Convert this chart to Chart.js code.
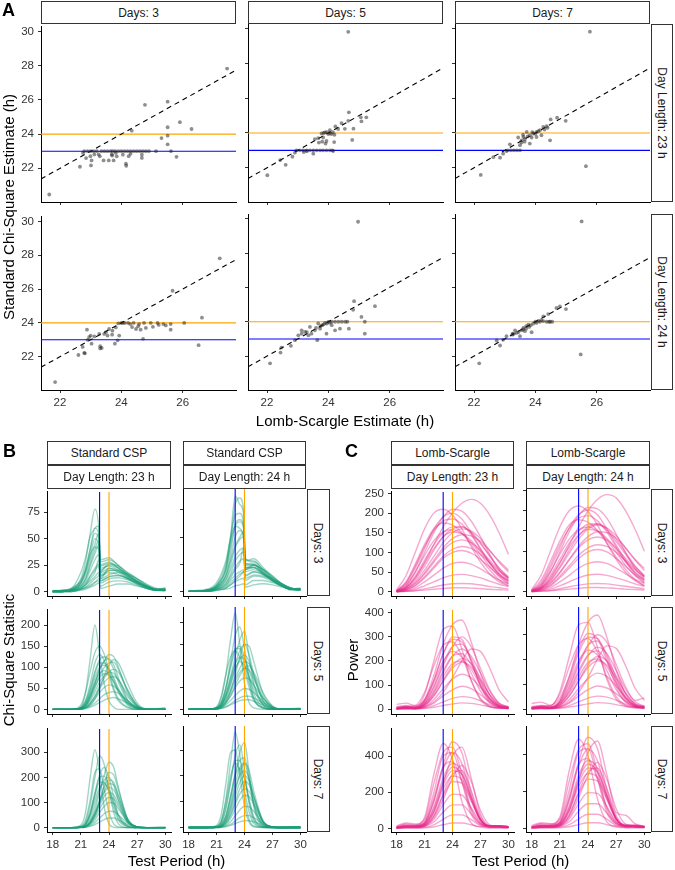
<!DOCTYPE html>
<html>
<head>
<meta charset="utf-8">
<script src="https://cdn.jsdelivr.net/npm/chart.js@4.4.1/dist/chart.umd.min.js"></script>
<style>
  body { margin: 0; background: #fff; font-family: "Liberation Sans", Arial, sans-serif; }
  #fig { position: relative; width: 675px; height: 870px; overflow: hidden; }
  canvas { position: absolute; }
  .strip { position: absolute; box-sizing: border-box; border: 1px solid #333; background: #fff;
    display: flex; align-items: center; justify-content: center; font-size: 12px; color: #1a1a1a; }
  .strip.v span { transform: rotate(90deg); white-space: nowrap; }
  .lab { position: absolute; white-space: nowrap; font-size: 15px; color: #000; transform: translate(-50%, -50%); }
  .lab.rot { transform: translate(-50%, -50%) rotate(-90deg); }
  .tag { position: absolute; font-weight: bold; font-size: 18px; line-height: 1; }
</style>
</head>
<body>
<div id="fig"></div>
<script>
// ---- DATA ----
const dayLengths = [23, 24];
const daysList = [3, 5, 7];

// A: tick labels
const aTicksX = [22, 24, 26];
const aTicksY = [22, 24, 26, 28, 30];

// A: [Lomb-Scargle estimate, standard chi-square estimate]
const estL23D3 = [[21.65,20.47],[27.45,27.83],[24.77,25.71],[25.51,25.9],[25.91,24.7],[26.29,24.3],[25.51,24.4],[25.51,23.91],[25.51,23.4],[25.31,23.77],[25.62,23.0],[25.8,22.67],[25.13,23.0],[24.34,24.2],[22.65,22.09],[22.79,23.0],[23.01,22.17],[22.99,22.71],[23.03,22.46],[23.12,22.81],[23.26,22.81],[23.42,22.46],[23.59,22.46],[23.75,22.46],[23.69,22.81],[23.82,22.9],[24.15,22.27],[24.16,22.15],[24.24,22.71],[24.67,22.61],[24.67,22.8],[22.75,22.9],[22.9,23],[23.0,23],[23.1,23],[23.2,23],[23.35,23],[23.45,23],[23.55,23],[23.65,23],[23.72,23],[23.8,23],[23.9,23],[24.0,23],[24.1,23],[24.2,23],[24.3,23],[24.4,23],[24.5,23],[24.6,23],[24.7,23],[24.8,23],[24.9,23],[23.7,22.75],[23.85,22.7],[24.05,22.8],[24.3,22.85],[23.3,22.7],[22.85,22.6]];
const estL23D5 = [[24.65,29.82],[22.01,21.57],[22.43,22.44],[22.61,22.17],[22.83,22.64],[22.91,22.87],[22.96,23],[23.07,23],[23.18,23],[23.29,23],[23.4,23],[23.51,23],[23.62,23],[23.73,23],[23.83,23],[23.94,23],[24.05,23],[24.13,23],[23.51,22.81],[24.16,22.96],[23.78,23.97],[23.89,24.03],[24.0,23.94],[24.1,23.94],[24.2,23.9],[23.83,23.74],[23.67,23.7],[23.94,23.54],[23.8,23.5],[24.05,24.16],[24.23,24.38],[24.32,24.23],[24.43,24.57],[24.54,24.24],[24.65,24.7],[24.67,25.19],[24.82,24.25],[24.78,23.6],[24.19,23.48],[23.91,23.39],[25.06,24.9],[25.08,24.67],[25.24,24.9],[23.56,23.65],[23.69,23.45],[23.85,24.0],[23.95,24.05],[24.05,24.0],[24.15,24.05],[23.3,22.95],[23.2,22.9]];
const estL23D7 = [[25.78,29.83],[25.65,22.09],[22.22,21.59],[22.63,22.61],[22.85,22.58],[22.95,22.81],[23.06,22.96],[23.1,23],[23.2,23],[23.3,23],[23.4,23],[23.5,23],[23.17,23.35],[23.55,23.58],[23.61,23.77],[23.72,24.06],[23.82,23.87],[23.93,23.97],[24.04,24.06],[24.15,24.16],[24.26,24.35],[24.37,24.39],[23.55,23.45],[23.66,23.66],[23.82,23.39],[23.88,23.74],[24.04,23.77],[24.2,23.87],[24.48,23.58],[24.5,24.78],[24.71,24.88],[24.99,24.7],[23.44,23.74],[23.5,23.3],[23.6,23.9],[23.75,23.8],[23.9,24.05],[24.0,23.95],[24.1,24.1],[24.3,24.2],[24.4,24.3],[23.65,23.5]];
const estL24D3 = [[21.84,20.5],[27.21,27.82],[25.67,25.9],[22.6,22.1],[22.79,22.23],[22.74,22.58],[22.88,23.6],[22.9,23.0],[22.95,23.16],[23.0,23.25],[23.12,23.2],[23.03,22.77],[23.31,22.62],[23.31,22.49],[23.28,23.35],[23.44,23.35],[23.55,23.25],[23.6,23.64],[23.71,23.54],[23.82,23.73],[23.79,22.77],[23.88,22.97],[23.93,23.25],[23.9,23.97],[24.0,24],[24.05,24],[24.11,24],[24.22,24],[24.29,23.93],[24.4,24],[24.48,23.64],[24.58,23.93],[24.63,23.6],[24.74,24],[24.8,23.7],[24.71,23.06],[24.96,24],[25.03,23.77],[25.18,24],[25.22,23.88],[25.37,23.93],[25.45,23.85],[25.61,23.93],[25.61,23.6],[26.05,24],[26.63,24.31],[26.52,22.68],[22.81,22.2],[23.36,22.52],[23.7,23.3],[24.35,23.75],[24.55,23.8],[23.5,23.45]];
const estL24D5 = [[24.97,29.82],[22.1,21.58],[22.44,22.21],[22.47,22.5],[22.78,22.6],[22.91,22.93],[23.02,23.21],[23.13,23.31],[23.24,23.41],[23.35,23.21],[23.45,23.31],[23.56,23.5],[23.4,23.7],[23.13,23.5],[23.64,22.93],[23.73,23.6],[23.8,23.8],[23.89,23.93],[24.0,23.99],[24.11,24],[24.22,24],[24.33,24],[24.44,24],[24.55,24],[24.62,24],[23.94,23.31],[24.22,23.5],[24.38,23.6],[24.67,23.6],[24.84,25.2],[24.81,24.7],[25.08,24.28],[25.19,24.0],[25.19,23.31],[25.52,24.91],[23.67,23.9],[24.11,23.8],[23.85,23.85],[23.95,23.9],[24.05,23.95],[23.75,23.75],[23.6,23.65],[23.3,23.4]];
const estL24D7 = [[25.51,29.84],[25.48,22.1],[22.17,21.58],[22.74,22.91],[22.85,22.62],[23.06,23.16],[23.26,23.31],[23.34,23.5],[23.5,23.16],[23.61,23.64],[23.66,23.45],[23.77,23.83],[23.88,23.39],[23.93,23.89],[24.04,23.93],[24.15,24.0],[24.26,24.04],[24.37,24.0],[24.48,24.0],[24.26,24.31],[24.42,24.45],[24.69,24.8],[24.8,24.9],[25.0,24.74],[23.39,23.35],[23.55,23.5],[23.7,23.6],[23.45,23.4],[23.6,23.55],[23.8,23.7],[23.85,23.8],[24.0,24.0],[24.1,24.05],[23.3,23.3],[23.25,23.25],[22.95,22.95],[23.7,23.75],[24.2,24.1],[24.45,24.0],[24.55,24.0]];

// B / C: test periods and tick labels
const periodTicks = [18, 21, 24, 27, 30];
const cspTicks3 = [0, 25, 50, 75];
const cspTicks5 = [0, 50, 100, 150, 200];
const cspTicks7 = [0, 100, 200, 300];
const lsTicks3 = [0, 50, 100, 150, 200, 250];
const lsTicks5 = [0, 100, 200, 300, 400];
const lsTicks7 = [0, 200, 400];

const cspPeriodsL23D3 = [18,19,20,21,21.5,22,22.5,22.9,23.1,24,25,26,27,28,29,30];
const cspPeriodsL24D3 = [18,19,20,21,22,22.5,23,23.5,23.9,24.1,25,26,27,28,29,30];
const cspPeriodsD57 = [18,20,21,21.5,22,22.5,23,23.5,24,24.5,25,26,27,28,30];
const lsPeriods = [18,19,20,21,22,23,24,25,26,27,28,29,30];

// B: chi-square statistic curves
const cspL23D3 = [
  [0,0,2,12,28,55,78,62,28,30,25,17,10,5,2,3],
  [0,1,3,18,32,52,60,62,25,28,22,14,8,4,1,2],
  [0,0,1,8,16,30,45,55,20,26,24,18,12,6,2,2],
  [1,1,3,10,20,35,42,40,15,18,16,12,8,4,1,1],
  [0,0,1,5,10,20,30,35,12,22,20,15,10,5,2,1],
  [0,0,1,4,8,15,22,26,10,14,15,12,8,5,2,3],
  [0,0,0,3,6,10,14,18,8,12,13,11,8,4,2,1],
  [0,0,0,2,4,6,9,10,5,9,10,9,6,3,1,1],
  [0,0,0,1,2,4,6,8,3,5,7,7,5,3,1,0],
  [0,1,2,8,20,40,60,55,30,32,24,16,9,5,2,2],
  [0,0,1,2,4,8,12,15,18,25,22,16,10,5,2,1],
  [0,0,1,3,7,14,20,24,12,16,18,16,12,7,3,2],
  [0,0,2,10,22,40,55,50,22,24,20,13,7,3,1,2],
  [0,0,1,6,12,24,36,44,16,20,19,14,9,4,1,1],
  [0,0,1,3,6,12,18,30,14,20,20,17,12,6,2,1],
  [0,1,2,8,18,34,50,45,18,22,18,12,7,3,1,2],
  [0,0,0,2,3,5,8,12,10,14,15,13,9,5,2,1],
  [0,0,1,5,12,26,40,48,24,27,22,15,9,4,2,3],
];
const cspL24D3 = [
  [0,0,1,5,20,45,80,86,75,30,27,20,12,6,2,3],
  [0,0,1,6,25,50,70,72,62,25,25,18,10,5,2,2],
  [0,1,2,8,28,48,60,58,50,22,22,16,10,5,1,2],
  [0,0,1,4,14,28,42,50,55,28,30,22,14,7,3,2],
  [0,0,1,3,10,20,32,38,40,18,20,16,10,5,2,1],
  [0,0,0,2,7,14,22,28,30,15,18,15,10,6,2,2],
  [0,0,0,2,5,10,15,18,20,10,14,13,9,5,2,1],
  [0,0,0,1,3,6,9,11,12,6,10,10,8,5,2,1],
  [0,0,0,1,2,3,5,6,7,4,6,7,6,4,2,1],
  [0,0,1,6,22,50,88,80,72,30,28,20,12,6,2,2],
  [0,0,0,2,4,8,12,16,18,20,24,20,13,7,3,2],
  [0,0,1,3,8,16,28,34,36,12,15,14,11,7,3,2],
  [0,0,1,4,16,36,60,64,58,24,24,17,10,5,2,2],
  [0,0,1,3,11,24,40,48,50,22,22,17,11,6,2,1],
  [0,0,0,2,6,12,20,26,40,20,24,20,14,7,3,2],
  [0,0,1,5,20,42,62,66,60,26,25,18,11,5,2,2],
  [0,0,0,1,3,6,10,14,18,14,18,16,12,7,3,1],
  [0,0,1,4,14,30,50,56,50,20,22,16,10,5,2,3],
];
const cspL23D5 = [
  [0,0,5,40,120,200,130,60,20,5,0,0,0,0,0],
  [0,0,10,40,90,135,150,130,90,50,25,5,0,0,0],
  [0,0,5,20,50,90,118,125,118,95,65,20,3,0,0],
  [0,0,3,12,35,65,95,115,130,125,100,40,8,0,2],
  [0,0,2,8,25,50,80,100,110,112,95,45,10,1,0],
  [0,0,2,10,30,55,75,85,80,65,45,15,3,0,0],
  [0,0,1,5,15,30,50,65,75,78,70,35,8,0,4],
  [0,0,1,4,12,25,40,52,58,55,45,20,5,0,0],
  [0,0,1,3,8,15,25,35,40,42,38,20,5,0,0],
  [0,0,0,2,5,10,16,22,26,28,25,15,4,0,0],
  [0,0,4,20,60,110,130,115,80,45,20,4,0,0,0],
  [0,0,1,3,10,25,50,80,105,118,110,60,15,1,0],
  [0,0,3,15,45,85,110,110,95,70,45,12,2,0,0],
  [0,0,2,8,28,60,95,115,120,105,75,22,3,0,0],
  [0,0,1,6,20,42,65,80,88,85,70,30,6,0,0],
  [0,0,3,14,40,75,100,105,95,75,50,15,2,0,0],
  [0,0,1,4,14,32,55,75,90,95,88,45,10,1,0],
  [0,0,2,10,32,62,85,92,85,65,40,10,1,0,0],
];
const cspL24D5 = [
  [0,0,5,25,80,160,222,150,60,15,3,0,0,0,0],
  [0,0,3,15,50,110,170,190,140,70,25,3,0,0,0],
  [0,0,2,10,35,75,120,160,180,120,60,10,0,0,0],
  [0,0,5,30,80,120,135,120,90,50,20,3,0,0,0],
  [0,0,2,8,25,55,90,115,125,110,75,20,3,0,0],
  [0,0,1,6,20,40,65,85,95,90,70,25,5,0,3],
  [0,0,1,5,15,30,50,65,72,70,55,25,5,0,0],
  [0,0,1,3,10,20,32,42,48,46,38,18,4,0,0],
  [0,0,0,2,6,12,20,26,30,30,26,14,3,0,0],
  [0,0,1,4,15,40,80,120,150,145,110,35,6,0,0],
  [0,0,2,10,30,60,95,110,100,75,45,10,1,0,0],
  [0,0,0,2,5,10,15,20,22,22,18,10,2,0,0],
  [0,0,3,14,45,95,135,145,120,75,35,5,0,0,0],
  [0,0,2,8,30,65,105,135,150,125,80,18,2,0,0],
  [0,0,1,6,20,45,72,95,110,105,80,28,5,0,0],
  [0,0,3,16,50,100,140,140,105,60,25,3,0,0,0],
  [0,0,1,4,14,32,55,78,95,100,85,38,8,0,0],
  [0,0,2,10,35,70,105,120,115,90,55,12,1,0,0],
];
const cspL23D7 = [
  [0,0,10,60,200,310,220,80,15,2,0,0,0,0,0],
  [0,0,3,20,90,200,285,250,150,60,15,0,0,0,0],
  [0,0,2,10,50,130,210,240,200,120,50,5,0,0,0],
  [0,0,1,5,25,70,140,210,260,240,160,30,2,0,0],
  [0,0,1,4,20,55,110,160,190,180,130,30,3,0,4],
  [0,0,2,12,50,110,160,175,150,100,50,8,0,0,0],
  [0,0,1,5,20,50,90,125,140,130,95,25,3,0,0],
  [0,0,1,3,12,30,60,85,100,98,75,22,3,0,0],
  [0,0,0,2,8,20,38,55,65,64,50,18,2,0,0],
  [0,0,0,1,5,12,22,32,38,38,30,12,2,0,0],
  [0,0,1,4,15,45,100,170,220,210,150,35,3,0,0],
  [0,0,5,30,110,220,235,150,60,15,3,0,0,0,0],
  [0,0,3,15,60,140,200,205,160,95,40,5,0,0,0],
  [0,0,2,8,35,90,150,190,200,170,110,20,2,0,0],
  [0,0,1,6,25,60,105,140,160,150,110,28,3,0,0],
  [0,0,3,15,60,130,180,180,140,80,30,3,0,0,0],
  [0,0,1,5,20,55,100,145,175,170,125,32,3,0,0],
  [0,0,1,4,15,40,75,105,120,115,85,22,2,0,0],
];
const cspL24D7 = [
  [0,0,4,25,110,250,370,280,120,30,5,0,0,0,0],
  [0,0,2,15,70,170,280,320,220,90,25,2,0,0,0],
  [0,0,1,8,40,110,200,290,330,210,80,5,0,0,0],
  [0,0,8,50,170,290,300,200,80,20,3,0,0,0,0],
  [0,0,1,5,25,70,140,210,250,220,140,25,2,0,0],
  [0,0,1,4,18,50,100,150,180,165,115,25,2,0,4],
  [0,0,1,3,12,35,70,105,125,120,90,22,2,0,0],
  [0,0,0,2,8,22,45,68,82,80,62,18,2,0,0],
  [0,0,0,1,5,12,25,38,46,46,38,14,2,0,0],
  [0,0,1,6,30,90,170,230,250,180,90,10,0,0,0],
  [0,0,2,10,45,120,200,230,190,110,40,3,0,0,0],
  [0,0,0,1,3,8,15,22,26,26,22,10,2,0,0],
  [0,0,3,18,80,180,260,260,190,100,35,3,0,0,0],
  [0,0,2,10,45,120,210,260,270,190,90,10,0,0,0],
  [0,0,1,6,30,80,150,200,220,190,120,20,2,0,0],
  [0,0,4,25,100,200,250,220,140,60,15,1,0,0,0],
  [0,0,1,5,22,60,120,175,200,180,120,22,2,0,0],
  [0,0,1,4,16,45,90,130,150,140,100,20,2,0,0],
];

// C: Lomb-Scargle power curves
const lsL23D3 = [
  [5,40,100,160,200,210,195,160,115,75,45,25,15],
  [2,20,60,110,160,190,200,185,150,110,75,45,25],
  [1,10,35,75,120,165,200,225,235,225,195,150,95],
  [3,25,70,120,160,175,170,150,120,85,55,30,15],
  [1,8,25,55,90,125,150,160,155,135,105,75,50],
  [1,6,20,45,75,105,125,132,125,105,80,55,35],
  [0,4,15,35,60,85,100,105,98,82,62,42,28],
  [0,3,10,25,42,60,72,75,70,58,44,30,20],
  [0,2,6,15,25,35,42,44,41,35,27,19,13],
  [0,1,3,7,12,17,20,21,20,17,13,10,7],
  [2,15,50,100,150,190,210,205,180,140,95,55,30],
  [1,10,30,65,105,140,160,165,152,125,92,60,35],
  [0,1,2,4,6,8,10,10,9,8,6,5,4],
  [3,22,65,115,155,180,185,172,145,108,72,42,22],
  [1,12,40,80,120,150,165,165,150,122,90,60,38],
  [2,16,50,92,130,152,158,148,125,95,64,38,20],
  [1,7,22,48,80,112,135,145,142,128,104,78,55],
  [0,5,16,38,64,90,108,115,110,95,74,52,34],
  [1,10,35,72,110,140,152,148,130,102,72,46,28],
];
const lsL24D3 = [
  [5,40,100,160,200,212,198,165,120,80,48,27,15],
  [2,18,58,108,158,190,202,190,155,115,78,48,27],
  [1,9,32,70,115,160,200,228,240,232,200,155,100],
  [3,28,75,125,165,178,172,152,120,86,55,30,14],
  [1,8,26,58,95,130,155,165,158,138,108,78,52],
  [1,6,20,46,78,108,128,135,128,108,82,57,37],
  [0,4,14,34,58,82,98,104,98,82,62,42,28],
  [0,3,10,24,40,58,70,74,70,58,44,30,20],
  [0,2,6,14,24,34,41,43,40,34,27,19,13],
  [0,1,3,7,12,16,19,20,19,16,13,10,7],
  [2,14,48,98,148,188,208,205,182,142,97,57,32],
  [1,9,28,62,102,138,160,167,156,130,96,64,38],
  [0,1,2,4,6,8,10,10,9,8,6,5,4],
  [3,22,66,116,156,182,188,175,148,110,74,43,23],
  [1,12,40,80,120,150,166,168,152,124,92,62,40],
  [2,16,50,92,130,153,160,150,127,97,65,39,21],
  [1,7,22,48,80,112,136,148,146,132,108,80,57],
  [0,5,16,38,64,90,108,116,112,97,76,54,36],
  [1,10,35,72,110,140,154,150,132,104,74,48,30],
];
const lsL23D5 = [
  [10,15,10,60,200,330,345,250,120,40,10,5,5],
  [5,10,8,40,140,270,350,370,280,150,55,15,8],
  [8,12,15,70,180,265,280,220,120,45,12,5,3],
  [3,8,5,25,90,180,260,300,260,170,80,25,10],
  [5,8,5,20,70,150,220,250,220,150,75,25,10],
  [2,5,3,15,55,115,170,195,175,120,60,20,8],
  [2,4,3,10,40,85,125,145,130,90,45,15,5],
  [1,3,2,8,25,55,80,95,85,60,30,10,4],
  [1,2,2,5,15,30,45,52,48,35,18,6,3],
  [0,1,1,3,8,15,22,26,24,18,10,4,2],
  [20,25,15,40,120,230,300,290,200,95,30,10,5],
  [2,4,3,10,30,70,130,200,250,240,170,80,30],
  [6,10,8,35,120,230,290,280,200,100,35,10,6],
  [4,8,6,28,95,190,260,270,210,120,45,14,6],
  [3,6,5,22,78,160,220,230,185,110,42,12,5],
  [5,9,8,32,110,200,240,215,150,75,25,8,4],
  [2,5,4,15,55,120,180,210,190,130,60,18,7],
  [3,6,5,18,65,135,190,200,165,100,40,12,5],
];
const lsL24D5 = [
  [10,15,12,70,210,340,350,250,120,40,12,8,10],
  [5,10,8,35,130,260,350,380,290,160,60,20,12],
  [8,12,15,60,170,260,285,230,130,50,15,8,5],
  [3,8,5,25,85,175,255,300,270,180,90,35,45],
  [5,8,5,20,70,145,215,250,225,155,80,30,12],
  [2,5,3,14,52,112,168,195,178,125,65,22,10],
  [2,4,3,10,38,82,122,145,132,92,48,16,6],
  [1,3,2,7,24,52,78,93,85,62,32,11,5],
  [1,2,2,5,14,29,44,52,48,36,19,7,3],
  [0,1,1,3,8,14,21,26,24,18,10,4,2],
  [22,28,15,45,130,240,305,285,195,90,30,10,5],
  [2,4,3,9,28,68,128,200,255,245,175,85,35],
  [6,10,8,32,115,225,290,285,210,105,38,12,7],
  [4,8,6,26,92,185,258,275,220,125,48,15,7],
  [3,6,5,20,75,155,218,235,192,115,45,13,6],
  [5,9,8,30,105,195,238,218,155,78,27,9,5],
  [2,5,4,14,52,115,178,212,195,135,64,20,8],
  [3,6,5,17,62,130,188,202,170,104,42,13,6],
];
const lsL23D7 = [
  [10,25,20,60,300,470,380,150,30,10,15,15,10],
  [5,15,15,30,150,350,480,420,200,50,15,15,10],
  [8,20,18,40,200,400,420,260,80,20,12,12,8],
  [5,10,10,20,90,250,400,450,280,80,15,15,10],
  [5,12,12,25,110,260,340,300,160,45,12,12,8],
  [3,8,8,15,70,180,260,250,150,45,10,10,6],
  [2,6,6,12,50,130,190,185,115,35,8,8,5],
  [2,5,5,10,35,90,130,130,80,25,6,6,4],
  [1,3,3,6,20,50,75,75,48,15,4,4,3],
  [1,2,2,3,8,20,30,30,20,7,2,2,2],
  [15,30,25,50,250,420,450,300,100,25,15,15,10],
  [3,8,8,15,60,160,280,350,260,100,20,12,8],
  [6,14,14,30,150,330,420,360,180,50,12,12,8],
  [5,12,12,25,120,280,360,320,170,48,12,11,7],
  [4,10,10,20,100,240,320,300,175,52,12,10,7],
  [6,15,14,32,170,340,370,260,110,30,10,10,7],
  [3,8,8,16,70,190,300,320,210,65,12,10,6],
  [4,10,10,20,90,220,290,270,160,48,10,9,6],
];
const lsL24D7 = [
  [10,25,22,60,310,480,390,160,35,12,15,15,10],
  [5,15,15,30,150,355,490,430,210,55,20,18,12],
  [8,20,18,40,205,410,430,270,85,22,12,12,8],
  [5,10,10,20,95,255,410,470,290,85,70,25,10],
  [5,12,12,25,110,265,345,305,165,48,14,12,8],
  [3,8,8,15,70,185,265,255,155,48,12,10,6],
  [2,6,6,12,50,132,192,188,118,36,9,8,5],
  [2,5,5,10,35,92,132,132,82,26,7,6,4],
  [1,3,3,6,20,50,76,76,49,15,4,4,3],
  [1,2,2,3,8,20,30,30,20,7,3,2,2],
  [15,30,25,50,255,425,455,305,105,28,16,15,10],
  [3,8,8,15,60,165,285,355,265,105,22,12,8],
  [6,14,14,30,155,335,425,365,185,52,13,12,8],
  [5,12,12,25,122,285,365,325,175,50,13,11,7],
  [4,10,10,20,102,245,325,305,180,54,13,10,7],
  [6,15,14,32,172,345,375,265,115,32,11,10,7],
  [3,8,8,16,72,195,305,325,215,68,13,10,6],
  [4,10,10,20,92,225,295,275,165,50,11,9,6],
];

// ---- LAYOUT ----
Chart.defaults.font.family = "'Liberation Sans', Arial, sans-serif";
const fig = document.getElementById("fig");
const BLUE = "#0000FF", ORANGE = "#FFA500";

function addEl(cls, text, css) {
  const d = document.createElement("div");
  d.className = cls;
  if (cls.includes(" v")) d.innerHTML = "<span>" + text + "</span>";
  else d.textContent = text;
  Object.assign(d.style, css);
  fig.appendChild(d);
  return d;
}
function px(v) { return v + "px"; }
function strip(text, l, t, w, h) {
  addEl("strip", text, { left: px(l), top: px(t), width: px(w), height: px(h) });
}
function vstrip(text, l, t, w, h) {
  addEl("strip v", text, { left: px(l), top: px(t), width: px(w), height: px(h) });
}

function axis(r, ticks, show, horiz, size) {
  return {
    type: "linear",
    min: r[0],
    max: r[1],
    afterBuildTicks: (s) => { s.ticks = ticks.map((v) => ({ value: v })); },
    afterFit: (s) => { if (horiz) s.height = size; else s.width = size; },
    grid: { drawOnChartArea: false, drawTicks: true, tickLength: 3, tickColor: "#333", color: "#333" },
    border: { display: true, color: "#000", width: 1 },
    ticks: {
      display: show, color: "#333", font: { size: 11.5 },
      padding: horiz ? 3 : 4, autoSkip: false, maxRotation: 0,
    },
  };
}

function facet(box, xr, yr, xticks, yticks, showX, showY, datasets) {
  const padL = 36, padB = 22, padT = 8, padR = 6;
  const cv = document.createElement("canvas");
  cv.width = box.w + padL + padR;
  cv.height = box.h + padT + padB;
  cv.style.left = px(box.l - padL);
  cv.style.top = px(box.t - padT);
  fig.appendChild(cv);
  new Chart(cv, {
    type: "scatter",
    data: { datasets },
    options: {
      responsive: false,
      animation: false,
      events: [],
      layout: { padding: { top: padT, right: padR, left: 0, bottom: 0 } },
      plugins: { legend: { display: false }, tooltip: { enabled: false } },
      scales: {
        x: axis(xr, xticks, showX, true, padB),
        y: axis(yr, yticks, showY, false, padL),
      },
    },
  });
}

function refLine(p0, p1, color, dash) {
  return {
    data: [p0, p1], showLine: true, borderColor: color, borderWidth: 1.1,
    borderDash: dash || [], pointRadius: 0, order: -1,
  };
}

// ---- PANEL A ----
const aCols = [{ l: 41, w: 195 }, { l: 248, w: 195 }, { l: 455, w: 195 }];
const aRows = [{ t: 24, h: 178 }, { t: 214, h: 176 }];
const aXr = [21.38, 27.74], aYr = [20.03, 30.27];
const aTable = [[estL23D3, estL23D5, estL23D7], [estL24D3, estL24D5, estL24D7]];

aCols.forEach((c, j) => strip("Days: " + daysList[j], c.l, 1, c.w, 23));
aRows.forEach((r, i) => vstrip("Day Length: " + dayLengths[i] + " h", 651, r.t, 22, r.h));

aRows.forEach((r, i) => {
  aCols.forEach((c, j) => {
    const pts = aTable[i][j];
    facet({ l: c.l, t: r.t, w: c.w, h: r.h }, aXr, aYr, aTicksX, aTicksY, i === 1, j === 0, [
      {
        data: pts.map((p) => ({ x: p[0], y: p[1] })),
        backgroundColor: "rgba(30,30,30,0.5)", borderWidth: 0, pointRadius: 1.9, order: -2,
      },
      refLine({ x: aXr[0], y: aXr[0] }, { x: aXr[1], y: aXr[1] }, "#000", [5, 4]),
      refLine({ x: aXr[0], y: dayLengths[1] }, { x: aXr[1], y: dayLengths[1] }, ORANGE),
      refLine({ x: aXr[0], y: dayLengths[0] }, { x: aXr[1], y: dayLengths[0] }, BLUE),
    ]);
  });
});

addEl("lab", "Lomb-Scargle Estimate (h)", { left: px(345), top: px(420) });
addEl("lab rot", "Standard Chi-Square Estimate (h)", { left: px(8), top: px(207) });
addEl("tag", "A", { left: px(2), top: px(0.5) });

// ---- PANELS B and C ----
const pRows = [{ t: 489, h: 107 }, { t: 607, h: 107 }, { t: 726, h: 106 }];
const pXr = [17.4, 30.6];

function periodPanel(cols, title, color, rowsSpec, tableX, tableY, stripX, stripW) {
  cols.forEach((c, j) => {
    strip(title, c.l, 441, c.w, 24);
    strip("Day Length: " + dayLengths[j] + " h", c.l, 465, c.w, 24);
  });
  pRows.forEach((r, i) => {
    vstrip("Days: " + daysList[i], stripX, r.t, stripW, r.h);
    cols.forEach((c, j) => {
      const xs = tableX[i][j];
      const yr = rowsSpec[i].range;
      const sets = tableY[i][j].map((curve) => ({
        data: xs.map((x, k) => ({ x: x, y: curve[k] })),
        showLine: true, borderColor: color, borderWidth: 1.4, pointRadius: 0,
        cubicInterpolationMode: "monotone",
      }));
      sets.push(refLine({ x: dayLengths[0], y: yr[0] }, { x: dayLengths[0], y: yr[1] }, BLUE));
      sets.push(refLine({ x: dayLengths[1], y: yr[0] }, { x: dayLengths[1], y: yr[1] }, ORANGE));
      facet({ l: c.l, t: r.t, w: c.w, h: r.h }, pXr, yr, periodTicks, rowsSpec[i].ticks, i === 2, j === 0, sets);
    });
  });
}

periodPanel(
  [{ l: 47, w: 124 }, { l: 183, w: 123 }], "Standard CSP", "rgba(27,158,119,0.42)",
  [{ range: [-4.3, 94.3], ticks: cspTicks3 }, { range: [-11, 236], ticks: cspTicks5 }, { range: [-17.5, 393], ticks: cspTicks7 }],
  [[cspPeriodsL23D3, cspPeriodsL24D3], [cspPeriodsD57, cspPeriodsD57], [cspPeriodsD57, cspPeriodsD57]],
  [[cspL23D3, cspL24D3], [cspL23D5, cspL24D5], [cspL23D7, cspL24D7]],
  307, 23
);
periodPanel(
  [{ l: 391, w: 123 }, { l: 526, w: 124 }], "Lomb-Scargle", "rgba(231,41,138,0.4)",
  [{ range: [-11, 254], ticks: lsTicks3 }, { range: [-20, 412], ticks: lsTicks5 }, { range: [-20, 551], ticks: lsTicks7 }],
  [[lsPeriods, lsPeriods], [lsPeriods, lsPeriods], [lsPeriods, lsPeriods]],
  [[lsL23D3, lsL24D3], [lsL23D5, lsL24D5], [lsL23D7, lsL24D7]],
  651, 22
);

addEl("lab", "Test Period (h)", { left: px(176.5), top: px(860) });
addEl("lab", "Test Period (h)", { left: px(520.5), top: px(860) });
addEl("lab rot", "Chi-Square Statistic", { left: px(8), top: px(660) });
addEl("lab rot", "Power", { left: px(352), top: px(660) });
addEl("tag", "B", { left: px(3), top: px(441.5) });
addEl("tag", "C", { left: px(345), top: px(441.5) });
</script>
</body>
</html>
